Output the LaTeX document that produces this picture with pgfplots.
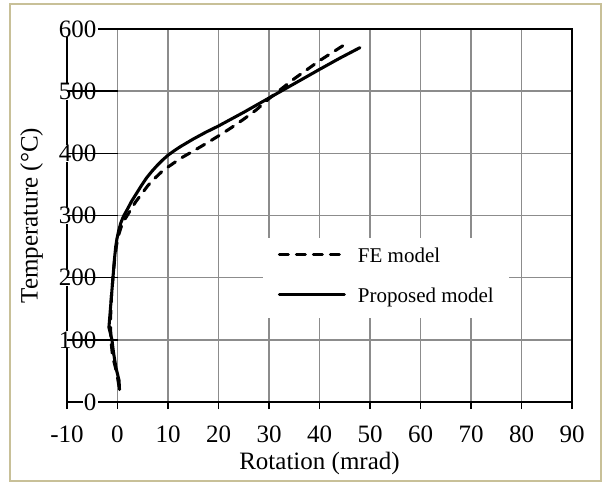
\documentclass[border=0pt]{standalone}
\usepackage{pgfplots}
\pgfplotsset{compat=1.18}
\usepackage{fontspec}
\setmainfont{Liberation Serif}
\definecolor{bordercol}{RGB}{200,192,152}
\definecolor{gridcol}{RGB}{140,140,140}
\begin{document}
\begin{tikzpicture}
\draw[bordercol, line width=1.6pt] (-42.75pt,-59.25pt) rectangle (400.5pt,298.5pt);
\begin{axis}[
  set layers,
  at={(0,0)}, anchor=south west,
  width=378.75pt, height=279.75pt, scale only axis,
  xmin=-10, xmax=90, ymin=0, ymax=600,
  xtick={-10,0,...,90}, ytick={0,100,...,600},
  font=\fontsize{18.75}{22}\selectfont,
  /pgf/number format/assume math mode=true,
  grid=major,
  major grid style={gridcol, line width=1.1pt},
  axis line style={black, line width=1.2pt},
  tick align=outside,
  xtick pos=bottom, ytick pos=left,
  x tick style={black, line width=1.1pt},
  major tick length=5.25pt,
  y tick style={draw=none},
  extra x ticks={0}, extra x tick labels={},
  extra x tick style={grid style={black, line width=1.2pt}, major tick length=0pt},
  yticklabel style={anchor=east, xshift=28.5pt, fill=white, inner xsep=1pt, inner ysep=0pt},
  xticklabel style={anchor=north, yshift=-9pt},
  xlabel={Rotation (mrad)},
  ylabel={Temperature (°C)},
  label style={font=\fontsize{19.75}{23}\selectfont},
  every axis x label/.style={at={(axis description cs:0.5,-0.165)}, anchor=center},
  every axis y label/.style={at={(axis description cs:-0.07,0.5)}, rotate=90, anchor=center},
  legend style={at={(rel axis cs:0.388,0.44)}, anchor=north west, draw=none, fill=white,
    font=\fontsize{15.75}{18}\selectfont, inner xsep=11pt, inner ysep=7.5pt,
    row sep=15pt, column sep=9pt,
    nodes={inner sep=0pt, text height=11pt, text depth=4pt}},
  legend cell align=left,
  legend image code/.code={\draw[#1] (0pt,3pt) -- (48.75pt,3pt);},
]
\draw[black, line width=1.1pt] (axis cs:-10,100) -- (axis cs:0,100);
\draw[black, line width=1.1pt] (axis cs:-10,200) -- (axis cs:0,200);
\draw[black, line width=1.1pt] (axis cs:-10,300) -- (axis cs:0,300);
\draw[black, line width=1.1pt] (axis cs:-10,400) -- (axis cs:0,400);
\draw[black, line width=1.1pt] (axis cs:-10,500) -- (axis cs:0,500);
\addplot[black, line width=2.3pt, line cap=round, line join=round, dash pattern=on 6.75pt off 6pt] coordinates {
(0.3,25) (0.0,40) (-0.4,55) (-1.0,75) (-1.3,100) (-1.4,130) (-1.2,170) (-0.8,210)
(-0.5,235) (-0.2,252) (0.2,268) (0.7,281) (1.3,292) (2.0,301) (2.6,309) (3.6,322)
(4.8,335) (6,348) (7.4,360) (8.7,370) (10,378) (12.5,392) (15.5,406) (18,418)
(20,428) (22.5,441) (25,455) (27.5,470) (30,488) (35,520) (40,549) (45,575)
};
\addlegendentry{FE model}
\addplot[black, line width=2.3pt, line cap=round, line join=round] coordinates {
(0.4,20) (0.3,35) (-0.3,55) (-0.8,80) (-1.1,100) (-1.7,120) (-1.5,140) (-1.2,170)
(-0.9,200) (-0.6,230) (-0.35,250) (-0.1,263) (0.25,276) (0.65,288) (1.2,299)
(1.95,310) (2.8,323) (3.8,336) (4.8,349) (5.8,361) (6.8,371) (7.8,380) (8.9,389)
(10,397) (11.2,404) (12.5,411) (15,423) (17.5,434) (20,444) (25,466) (30,489)
(35,512) (40,535) (44,553) (48,570)
};
\addlegendentry{Proposed model}
\end{axis}
\useasboundingbox (-50.25pt,-60.75pt) rectangle (402.75pt,301.5pt);
\end{tikzpicture}
\end{document}
